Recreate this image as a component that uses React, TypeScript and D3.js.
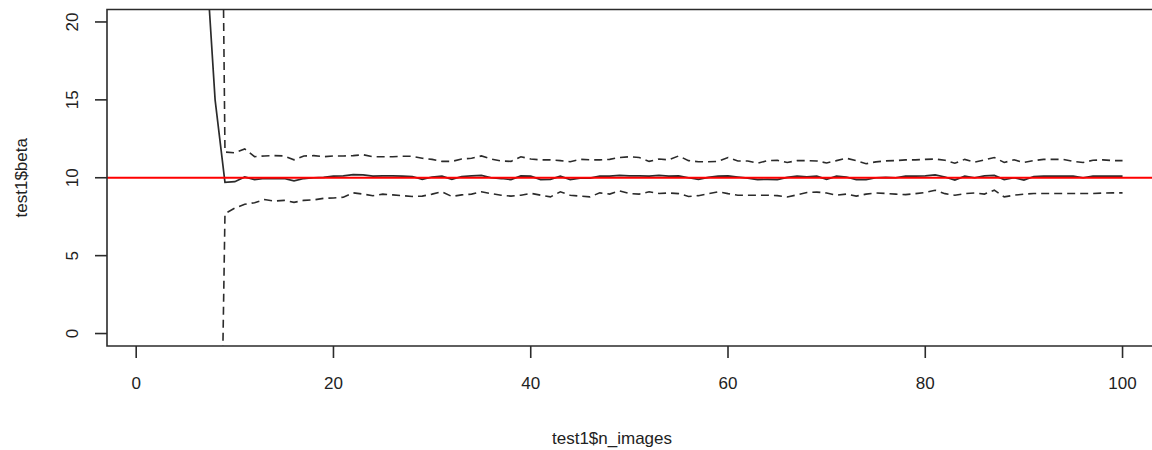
import React from "react";
import * as d3 from "d3";

// n_images 1..100
const nImages: number[] = Array.from({ length: 100 }, (_, i) => i + 1);

// beta estimate (solid), n_images = 1..100
const betaEst: (number | null)[] = [
  200, 120, 80, 55, 40, 30, 25, 15, 9.7, 9.75,
  10.05, 9.88, 9.95, 9.96, 9.95, 9.8, 9.95, 10.0, 10.02, 10.1,
  10.12, 10.2, 10.18, 10.1, 10.12, 10.12, 10.1, 10.08, 9.9, 10.05,
  10.1, 9.9, 10.08, 10.12, 10.15, 10.0, 9.95, 9.88, 10.12, 10.1,
  9.88, 9.9, 10.1, 9.88, 9.98, 9.98, 10.1, 10.1, 10.15, 10.12,
  10.12, 10.1, 10.15, 10.1, 10.12, 10.0, 9.9, 10.02, 10.1, 10.12,
  10.05, 9.98, 9.88, 9.9, 9.88, 10.02, 10.1, 10.05, 10.1, 9.9,
  10.1, 10.05, 9.88, 9.88, 10.0, 10.02, 10.0, 10.1, 10.1, 10.12,
  10.18, 10.05, 9.85, 10.1, 10.0, 10.12, 10.15, 9.88, 10.0, 9.85,
  10.08, 10.1, 10.1, 10.1, 10.1, 10.0, 10.1, 10.1, 10.1, 10.1,
];

// upper bound (dashed), n_images = 1..100
const upperBound: (number | null)[] = [
  null, null, null, null, null, null, null, 75, 11.65, 11.6,
  11.85, 11.35, 11.4, 11.42, 11.4, 11.15, 11.4, 11.42, 11.35, 11.4,
  11.4, 11.42, 11.48, 11.35, 11.35, 11.35, 11.38, 11.38, 11.25, 11.18,
  11.05, 11.05, 11.2, 11.25, 11.4, 11.2, 11.08, 11.05, 11.35, 11.2,
  11.15, 11.15, 11.1, 11.03, 11.18, 11.15, 11.15, 11.18, 11.3, 11.35,
  11.3, 11.05, 11.2, 11.15, 11.4, 11.1, 11.03, 11.03, 11.05, 11.3,
  11.08, 11.08, 10.93, 11.1, 11.12, 10.98, 11.1, 11.1, 11.08, 10.95,
  11.1, 11.25, 11.1, 10.9, 11.02, 11.08, 11.1, 11.15, 11.15, 11.18,
  11.2, 11.12, 10.93, 11.18, 11.0, 11.15, 11.3, 10.98, 11.15, 10.98,
  11.1, 11.18, 11.18, 11.18, 11.05, 10.98, 11.12, 11.15, 11.1, 11.1,
];

// lower bound (dashed), n_images = 1..100
const lowerBound: (number | null)[] = [
  null, null, null, null, null, null, null, -33, 7.7, 8.05,
  8.3, 8.4, 8.6, 8.5, 8.55, 8.42, 8.55, 8.58, 8.68, 8.7,
  8.75, 9.03, 8.95, 8.85, 8.95, 8.9, 8.85, 8.8, 8.82, 8.95,
  9.1, 8.8, 8.9, 8.95, 9.1, 8.98, 8.88, 8.82, 8.88, 9.0,
  8.88, 8.77, 9.1, 8.88, 8.82, 8.77, 9.03, 8.95, 9.16, 8.99,
  8.95, 9.1, 8.99, 9.02, 8.98, 8.8, 8.85, 8.98, 9.1, 8.98,
  8.88, 8.88, 8.88, 8.88, 8.85, 8.77, 8.9, 9.05, 9.08, 9.02,
  8.88, 8.95, 8.82, 8.95, 9.02, 8.99, 8.95, 8.92, 8.98, 9.05,
  9.2, 8.98, 8.88, 8.98, 9.02, 8.95, 9.2, 8.77, 8.88, 8.95,
  8.99, 8.99, 8.99, 8.99, 8.99, 8.99, 8.99, 9.02, 9.03, 9.03,
];

const refValue = 10;
const xTicks = [0, 20, 40, 60, 80, 100];
const yTicks = [0, 5, 10, 15, 20];
const xTitle = "test1$n_images";
const yTitle = "test1$beta";

const W = 1152;
const H = 450;
const plot = { left: 107, right: 1161.6, top: 9.5, bottom: 346 };
const FONT = "'Liberation Sans', Arial, sans-serif";
const INK = "#2b2b2b";

export default function App() {
  const x = d3.scaleLinear().domain([-2.96, 103.96]).range([plot.left, plot.right]);
  const y = d3.scaleLinear().domain([-0.8, 20.8]).range([plot.bottom, plot.top]);

  const mk = (vals: (number | null)[]) =>
    d3
      .line<number>()
      .defined((i) => vals[i] !== null)
      .x((i) => x(nImages[i]))
      .y((i) => y(vals[i] as number))(nImages.map((_, i) => i)) || "";

  const tickLen = 12;

  return (
    <svg
      width={W}
      height={H}
      style={{ position: "absolute", left: 0, top: 0, background: "#fff" }}
    >
      <defs>
        <clipPath id="plotclip">
          <rect x={plot.left} y={plot.top} width={plot.right - plot.left} height={plot.bottom - plot.top} />
        </clipPath>
      </defs>
      <rect x={0} y={0} width={W} height={H} fill="#fff" />
      <g clipPath="url(#plotclip)" fill="none">
        <path d={mk(betaEst)} stroke={INK} strokeWidth={1.7} />
        <path d={mk(upperBound)} stroke={INK} strokeWidth={1.6} strokeDasharray="8,5" />
        <path d={mk(lowerBound)} stroke={INK} strokeWidth={1.6} strokeDasharray="8,5" />
        <line x1={plot.left} x2={plot.right} y1={y(refValue)} y2={y(refValue)} stroke="#ff0000" strokeWidth={2} />
      </g>
      {/* box */}
      <path
        d={`M${plot.right},${plot.top}H${plot.left}V${plot.bottom}H${plot.right}`}
        fill="none"
        stroke={INK}
        strokeWidth={1.6}
      />
      {/* x axis */}
      {xTicks.map((t) => (
        <g key={"x" + t}>
          <line x1={x(t)} x2={x(t)} y1={plot.bottom} y2={plot.bottom + tickLen} stroke={INK} strokeWidth={1.6} />
          <text x={x(t)} y={389} textAnchor="middle" fontFamily={FONT} fontSize={17} fill="#222">
            {t}
          </text>
        </g>
      ))}
      {/* y axis */}
      {yTicks.map((t) => (
        <g key={"y" + t}>
          <line x1={plot.left - tickLen} x2={plot.left} y1={y(t)} y2={y(t)} stroke={INK} strokeWidth={1.6} />
          <text
            transform={`translate(78,${y(t)}) rotate(-90)`}
            textAnchor="middle"
            fontFamily={FONT}
            fontSize={17}
            fill="#222"
          >
            {t}
          </text>
        </g>
      ))}
      <text x={612} y={444} textAnchor="middle" fontFamily={FONT} fontSize={17} fill="#222">
        {xTitle}
      </text>
      <text
        transform={`translate(27,${(plot.top + plot.bottom) / 2}) rotate(-90)`}
        textAnchor="middle"
        fontFamily={FONT}
        fontSize={17}
        fill="#222"
      >
        {yTitle}
      </text>
    </svg>
  );
}
